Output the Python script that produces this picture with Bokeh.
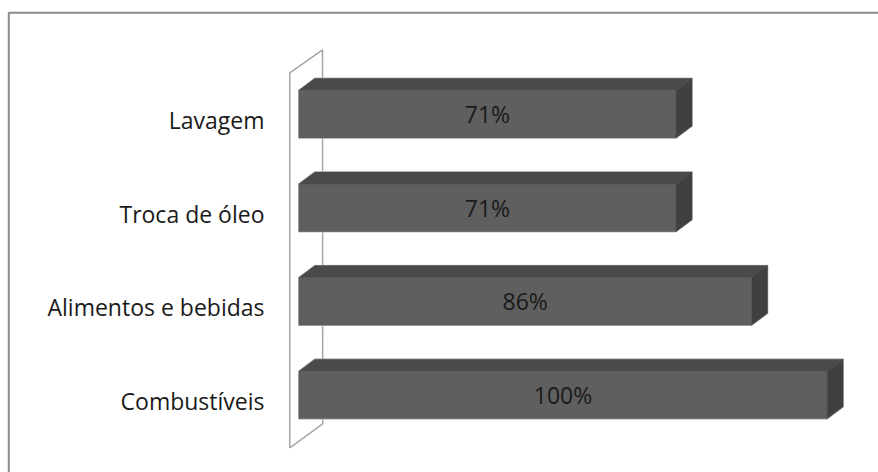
from bokeh.plotting import figure
from bokeh.models import Range1d, ColumnDataSource
from bokeh.core.properties import value
from bokeh.embed import file_html
from bokeh.resources import INLINE

# ---- data (top to bottom as shown) ----
categories = ["Lavagem", "Troca de óleo", "Alimentos e bebidas", "Combustíveis"]
shares = [71.4, 71.4, 85.7, 100.0]
share_labels = ["71%", "71%", "86%", "100%"]

# ---- layout constants (pixels) ----
W, H = 878, 472
PX_PER_PCT = 5.284      # pixels per percentage point
X0_PX = 298.3           # pixel x of 0 %
ROW_PX = 93.6           # pixels between rows
Y0_PX = 394.5           # pixel y of the bottom row's centre


def sx(px):
    return (px - X0_PX) / PX_PER_PCT


def sy(py):
    return (Y0_PX - py) / ROW_PX


FONT = value("Open Sans")
HALF = 23.85 / ROW_PX          # half height of the bar front face
DX = 16 / PX_PER_PCT           # 3D depth, x
DY = 12 / ROW_PX               # 3D depth, y

p = figure(width=W, height=H, output_backend="svg", toolbar_location=None,
           x_range=Range1d(sx(0), sx(W)), y_range=Range1d(sy(H), sy(0)),
           x_axis_location=None, y_axis_location=None, min_border=0)
p.grid.grid_line_color = None
p.outline_line_color = None
p.background_fill_color = "white"
p.border_fill_color = "white"

n = len(categories)
ypos = [n - 1 - i for i in range(n)]

# chart border (only top and left visible in the reference)
p.line(x=[sx(8.3), sx(8.3), sx(W + 5)], y=[sy(H + 5), sy(12.3), sy(12.3)],
       line_color="#8c8c8c", line_width=2)

# back wall
p.patch(x=[sx(289.3), sx(322.0), sx(322.2), sx(289.3)],
        y=[sy(72.3), sy(49.3), sy(423.3), sy(447.3)],
        fill_color="white", line_color="#a6a6a6", line_width=1.5)

# bars
bottoms = [y - HALF for y in ypos]
tops = [y + HALF for y in ypos]

sil_x, sil_y, top_x, top_y, side_x, side_y = [], [], [], [], [], []
for v, b, t in zip(shares, bottoms, tops):
    sil_x.append([0, 0, DX, v + DX, v + DX, v])
    sil_y.append([b, t, t + DY, t + DY, b + DY, b])
    top_x.append([0, DX, v + DX, v])
    top_y.append([t, t + DY, t + DY, t])
    side_x.append([v, v + DX, v + DX, v])
    side_y.append([t, t + DY, b + DY, b])

p.patches(xs=sil_x, ys=sil_y, fill_color=None, line_color="#d6d6d6", line_width=1.5)
p.quad(left=[0] * n, right=shares, bottom=bottoms, top=tops,
       fill_color="#5f5f5f", line_color="#5f5f5f", line_width=0.5)
p.patches(xs=top_x, ys=top_y, fill_color="#4a4a4a", line_color="#4a4a4a", line_width=0.5)
p.patches(xs=side_x, ys=side_y, fill_color="#404040", line_color="#404040", line_width=0.5)

# value labels
src = ColumnDataSource(dict(x=[v / 2 for v in shares], y=ypos, t=share_labels))
p.text(x="x", y="y", text="t", source=src, text_align="center", text_baseline="middle",
       text_font=FONT, text_font_size="23px", text_color="#1a1a1a")

# category labels
csrc = ColumnDataSource(dict(x=[sx(264)] * n, y=[y - 6 / ROW_PX for y in ypos], t=categories))
p.text(x="x", y="y", text="t", source=csrc, text_align="right", text_baseline="middle",
       text_font=FONT, text_font_size="23px", text_color="#1a1a1a")

open("out.html", "w").write(file_html(p, INLINE))
